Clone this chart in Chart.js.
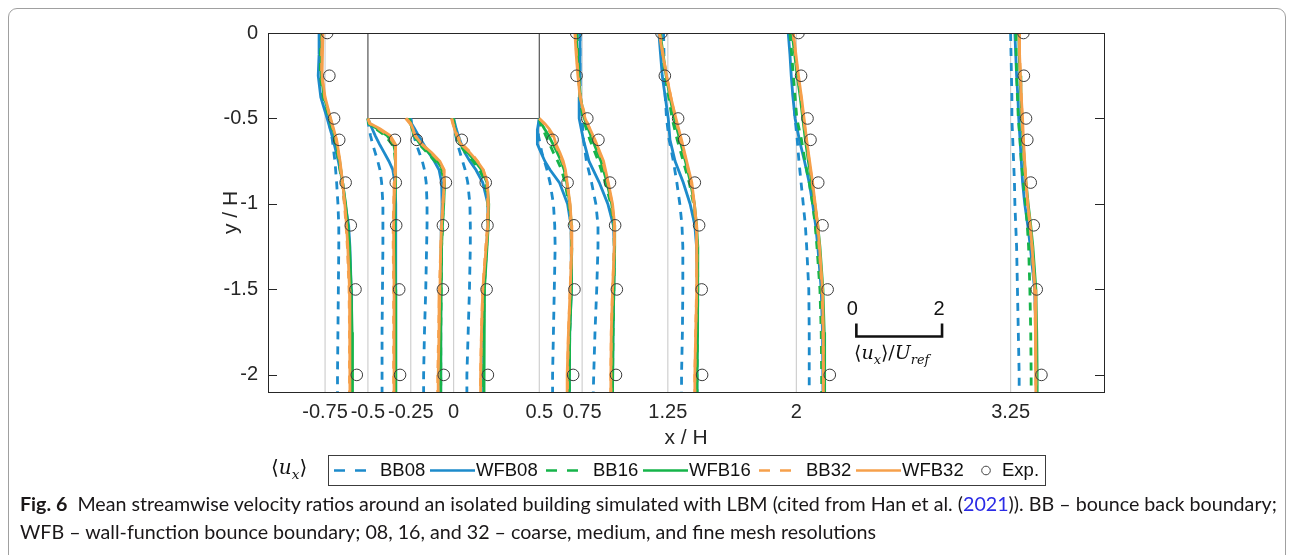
<!DOCTYPE html>
<html><head><meta charset="utf-8">
<script src="https://cdn.jsdelivr.net/npm/chart.js@4.4.1/dist/chart.umd.min.js"></script>
<style>
html,body{margin:0;padding:0;background:#fff;}
#wrap{position:relative;width:1292px;height:555px;overflow:hidden;background:#fff;}
#frame{position:absolute;left:8px;top:8px;width:1276px;height:566px;border:1px solid #a0a0a0;border-radius:9px;}
#c{position:absolute;left:0;top:0;}
.math{position:absolute;font-family:'DejaVu Serif','Liberation Serif',serif;color:#111;white-space:nowrap;}
.math sub{font-size:68%;vertical-align:-0.35em;line-height:0;}
#legend{position:absolute;left:328px;top:455px;width:716px;height:29px;border:1px solid #3c3c3c;background:#fff;}
.lt{position:absolute;top:3px;font-family:'Liberation Sans',Arial,sans-serif;font-size:18.5px;color:#111;white-space:nowrap;}
.ls{position:absolute;top:0;}
#cap{position:absolute;left:20px;top:490px;font-family:'Lato',sans-serif;font-size:18px;line-height:28px;color:#1a1718;white-space:nowrap;}
</style></head>
<body><div id="wrap">
<div id="frame"></div>
<canvas id="c" width="1292" height="555"></canvas>
<div class="math" id="uxLeft" style="left:271px;top:455px;font-size:20px;">⟨<i>u</i><sub><i>x</i></sub>⟩</div>
<div id="legend"></div>
<div class="math" id="barLab" style="left:854px;top:341px;font-size:19px;">⟨<i>u</i><sub><i>x</i></sub>⟩/<i>U</i><sub><i>ref</i></sub></div>
<div id="cap"><span id="cap1"><b>Fig. 6</b>&nbsp; Mean streamwise velocity ratios around an isolated building simulated with LBM (cited from Han et al. (<span style="color:#2b2be6">2021</span>)). BB – bounce back boundary;</span><br><span id="cap2">WFB – wall-function bounce boundary; 08, 16, and 32 – coarse, medium, and fine mesh resolutions</span></div>
</div>
<script>
// ---------- data ----------
const xLoc = [-0.75, -0.5, -0.25, 0, 0.5, 0.75, 1.25, 2, 3.25];
const onRoof = [false, true, true, true, true, false, false, false, false];
const yFull = [0, -0.125, -0.25, -0.375, -0.5, -0.625, -0.75, -0.875, -1, -1.125, -1.25, -1.5, -1.75, -2, -2.1];
const yRoof = [-0.5, -0.53, -0.56, -0.6, -0.65, -0.7, -0.75, -0.8, -0.875, -1, -1.125, -1.25, -1.5, -1.75, -2, -2.1];
const xTicks = [-0.75, -0.5, -0.25, 0, 0.5, 0.75, 1.25, 2, 3.25];
const yTicks = [0, -0.5, -1, -1.5, -2];
const buildingX = [-0.5, 0.5];
const buildingY = [0, -0.5];
const uScale = 0.25;            // x/H per unit of <u_x>/U_ref
const scaleBarU = [0, 2];

const BB08 = [
 [-0.10,-0.12,-0.12,-0.06,0.08,0.17,0.23,0.27,0.30,0.32,0.32,0.31,0.30,0.29,0.29],
 [0,0.01,0.03,0.06,0.11,0.17,0.23,0.28,0.32,0.35,0.35,0.35,0.34,0.33,0.33,0.33],
 [0,0.01,0.03,0.07,0.13,0.20,0.27,0.32,0.36,0.38,0.38,0.37,0.35,0.32,0.30,0.30],
 [0,0.00,0.02,0.05,0.09,0.15,0.21,0.27,0.33,0.38,0.39,0.39,0.37,0.34,0.31,0.31],
 [0,-0.01,-0.02,-0.02,0.02,0.06,0.12,0.18,0.25,0.33,0.36,0.37,0.35,0.33,0.31,0.31],
 [-0.05,-0.05,-0.05,-0.04,0.00,0.03,0.10,0.22,0.32,0.37,0.37,0.34,0.30,0.27,0.26],
 [-0.10,-0.09,-0.08,-0.06,-0.03,0.03,0.13,0.21,0.28,0.33,0.35,0.35,0.34,0.32,0.32],
 [-0.15,-0.12,-0.10,-0.07,-0.03,0.02,0.06,0.11,0.16,0.21,0.24,0.29,0.30,0.30,0.30],
 [0.00,0.01,0.02,0.03,0.03,0.05,0.07,0.09,0.10,0.12,0.14,0.16,0.18,0.20,0.20]
];
const WFB08 = [
 [-0.12,-0.14,-0.16,-0.10,0.05,0.19,0.31,0.41,0.47,0.55,0.58,0.61,0.62,0.62,0.62],
 [0,0.05,0.10,0.17,0.27,0.38,0.49,0.58,0.63,0.65,0.65,0.65,0.65,0.65,0.65,0.65],
 [0,0.02,0.09,0.18,0.30,0.42,0.55,0.66,0.72,0.73,0.72,0.71,0.70,0.70,0.70,0.70],
 [0,0.03,0.06,0.11,0.18,0.26,0.38,0.52,0.68,0.80,0.80,0.77,0.71,0.70,0.70,0.70],
 [0,-0.02,-0.04,-0.05,-0.04,0.04,0.13,0.25,0.47,0.66,0.74,0.76,0.74,0.71,0.70,0.70],
 [-0.05,-0.05,-0.05,-0.06,-0.07,0.03,0.16,0.40,0.60,0.73,0.75,0.74,0.72,0.71,0.71],
 [-0.21,-0.17,-0.13,-0.06,0.01,0.05,0.17,0.36,0.52,0.63,0.67,0.69,0.68,0.68,0.68],
 [-0.19,-0.15,-0.12,-0.08,-0.03,0.07,0.19,0.30,0.38,0.45,0.50,0.58,0.61,0.62,0.62],
 [0.10,0.12,0.14,0.17,0.19,0.22,0.25,0.28,0.33,0.40,0.46,0.56,0.59,0.60,0.60]
];
const BB16 = [
 [-0.08,-0.11,-0.11,-0.04,0.10,0.23,0.32,0.39,0.46,0.51,0.55,0.59,0.61,0.62,0.62],
 [0,0.02,0.18,0.40,0.56,0.62,0.64,0.64,0.63,0.62,0.62,0.62,0.63,0.64,0.64,0.64],
 [-0.04,0.00,0.03,0.08,0.20,0.38,0.57,0.72,0.78,0.76,0.74,0.72,0.71,0.70,0.70,0.70],
 [0,0.01,0.03,0.06,0.13,0.28,0.45,0.60,0.75,0.80,0.80,0.77,0.71,0.70,0.70,0.70],
 [0,0.03,0.08,0.15,0.24,0.33,0.43,0.52,0.60,0.69,0.74,0.76,0.74,0.71,0.70,0.70],
 [-0.12,-0.10,-0.08,-0.05,0.02,0.18,0.38,0.54,0.67,0.74,0.75,0.74,0.72,0.71,0.71],
 [-0.17,-0.12,-0.06,0.02,0.10,0.22,0.36,0.50,0.60,0.66,0.69,0.70,0.69,0.68,0.68],
 [-0.15,-0.11,-0.07,-0.03,0.01,0.12,0.20,0.30,0.38,0.44,0.48,0.55,0.58,0.59,0.59],
 [0.12,0.13,0.14,0.16,0.18,0.22,0.25,0.30,0.35,0.39,0.42,0.45,0.47,0.48,0.48]
];
const WFB16 = [
 [-0.07,-0.09,-0.09,-0.02,0.12,0.25,0.34,0.41,0.48,0.53,0.57,0.61,0.63,0.64,0.64],
 [0,0.03,0.22,0.45,0.60,0.64,0.65,0.65,0.64,0.63,0.63,0.63,0.64,0.65,0.65,0.65],
 [-0.05,0.00,0.03,0.08,0.22,0.42,0.62,0.75,0.79,0.77,0.74,0.72,0.71,0.70,0.70,0.70],
 [-0.02,0.00,0.03,0.07,0.15,0.33,0.50,0.65,0.78,0.82,0.81,0.78,0.72,0.71,0.71,0.71],
 [0,0.05,0.12,0.22,0.32,0.42,0.51,0.58,0.64,0.71,0.75,0.76,0.74,0.71,0.70,0.70],
 [-0.14,-0.11,-0.08,-0.04,0.05,0.24,0.44,0.58,0.69,0.75,0.76,0.74,0.72,0.71,0.71],
 [-0.18,-0.11,-0.04,0.05,0.15,0.28,0.41,0.53,0.62,0.67,0.70,0.70,0.69,0.68,0.68],
 [-0.10,-0.04,0.02,0.09,0.15,0.21,0.28,0.36,0.43,0.50,0.55,0.62,0.65,0.66,0.66],
 [0.19,0.20,0.22,0.24,0.26,0.29,0.32,0.36,0.41,0.47,0.52,0.59,0.61,0.62,0.62]
];
const BB32 = [
 [-0.06,-0.08,-0.08,-0.01,0.12,0.26,0.34,0.40,0.45,0.49,0.52,0.56,0.57,0.57,0.57],
 [0,0.04,0.25,0.48,0.62,0.64,0.64,0.63,0.62,0.60,0.59,0.59,0.60,0.60,0.60,0.60],
 [-0.12,-0.02,0.04,0.10,0.25,0.47,0.66,0.77,0.78,0.75,0.72,0.70,0.67,0.65,0.63,0.63],
 [-0.04,-0.01,0.03,0.09,0.20,0.40,0.56,0.69,0.78,0.80,0.79,0.75,0.68,0.65,0.63,0.63],
 [0,0.11,0.20,0.30,0.37,0.46,0.54,0.60,0.65,0.71,0.74,0.75,0.72,0.68,0.66,0.66],
 [-0.16,-0.13,-0.09,-0.04,0.08,0.28,0.48,0.60,0.70,0.75,0.75,0.71,0.68,0.67,0.67],
 [-0.19,-0.11,-0.03,0.07,0.18,0.30,0.43,0.54,0.61,0.66,0.68,0.67,0.65,0.63,0.63],
 [-0.08,-0.02,0.04,0.11,0.17,0.23,0.30,0.37,0.43,0.49,0.53,0.60,0.62,0.63,0.63],
 [0.20,0.21,0.23,0.25,0.27,0.29,0.32,0.36,0.40,0.45,0.50,0.56,0.58,0.59,0.59]
];
const WFB32 = [
 [-0.05,-0.07,-0.07,0.00,0.13,0.27,0.35,0.41,0.46,0.50,0.53,0.57,0.58,0.58,0.58],
 [0,0.05,0.28,0.52,0.64,0.65,0.65,0.64,0.63,0.61,0.60,0.60,0.61,0.61,0.61,0.61],
 [-0.10,0.00,0.05,0.10,0.26,0.49,0.68,0.78,0.78,0.75,0.72,0.70,0.68,0.66,0.64,0.64],
 [-0.05,-0.02,0.02,0.07,0.17,0.38,0.55,0.69,0.79,0.81,0.80,0.76,0.68,0.65,0.63,0.63],
 [0,0.13,0.23,0.33,0.39,0.48,0.56,0.61,0.65,0.72,0.75,0.76,0.72,0.68,0.65,0.65],
 [-0.17,-0.14,-0.10,-0.05,0.07,0.30,0.50,0.61,0.71,0.76,0.75,0.71,0.68,0.67,0.67],
 [-0.20,-0.12,-0.03,0.07,0.19,0.32,0.44,0.56,0.62,0.67,0.68,0.67,0.65,0.63,0.63],
 [-0.07,-0.01,0.05,0.12,0.18,0.24,0.31,0.38,0.44,0.50,0.54,0.61,0.63,0.63,0.63],
 [0.20,0.21,0.23,0.25,0.28,0.30,0.33,0.36,0.40,0.46,0.50,0.57,0.59,0.59,0.59]
];
const expY = [0, -0.25, -0.5, -0.625, -0.875, -1.125, -1.5, -2];
const EXP = [
 [0.05,0.10,0.21,0.33,0.48,0.60,0.71,0.74],
 [null,null,null,0.63,0.65,0.66,0.73,0.75],
 [null,null,null,0.14,0.82,0.75,0.75,0.77],
 [null,null,null,0.19,0.75,0.79,0.77,0.80],
 [null,null,null,0.31,0.66,0.81,0.82,0.79],
 [-0.14,-0.13,0.12,0.38,0.65,0.77,0.81,0.79],
 [-0.15,-0.07,0.24,0.38,0.63,0.73,0.79,0.80],
 [0.05,0.11,0.26,0.33,0.51,0.61,0.73,0.78],
 [0.30,0.31,0.36,0.39,0.47,0.54,0.61,0.72]
];
const seriesNames = ['BB08','WFB08','BB16','WFB16','BB32','WFB32'];

// ---------- styles ----------
const BLUE = '#1d8bcb', GREEN = '#16b44a', ORANGE = '#f6a04b';
const DASH = [8, 7];
const series = [
  {name:'BB08', data:BB08, color:BLUE, dash:DASH, order:5},
  {name:'WFB08', data:WFB08, color:BLUE, dash:[], order:4},
  {name:'BB16', data:BB16, color:GREEN, dash:DASH, order:3},
  {name:'WFB16', data:WFB16, color:GREEN, dash:[], order:2},
  {name:'BB32', data:BB32, color:ORANGE, dash:DASH, order:1},
  {name:'WFB32', data:WFB32, color:ORANGE, dash:[], order:0}
];
const X_MIN = -1.083, X_MAX = 3.795, Y_MIN = -2.1, Y_MAX = 0;

const datasets = [];
xLoc.forEach((x0, i) => {
  datasets.push({data:[{x:x0, y: onRoof[i] ? buildingY[1] : Y_MAX}, {x:x0, y:Y_MIN}],
    borderColor:'#d0d0d0', borderWidth:1.2, pointRadius:0, order:20});
});
datasets.push({data:[{x:buildingX[0],y:buildingY[0]},{x:buildingX[0],y:buildingY[1]},{x:buildingX[1],y:buildingY[1]},{x:buildingX[1],y:buildingY[0]}],
  borderColor:'#555', borderWidth:1.2, pointRadius:0, order:15});
series.forEach(s => {
  xLoc.forEach((x0, i) => {
    const ys = onRoof[i] ? yRoof : yFull;
    datasets.push({label:s.name, data:s.data[i].map((u,k) => ({x:x0 + uScale*u, y:ys[k]})),
      borderColor:s.color, borderWidth:2.8, borderDash:s.dash, pointRadius:0, order:s.order, fill:false, tension:0});
  });
});
const expPts = [];
xLoc.forEach((x0, i) => EXP[i].forEach((u,k) => { if (u !== null) expPts.push({x:x0 + uScale*u, y:expY[k]}); }));
datasets.push({label:'Exp.', data:expPts, showLine:false, pointRadius:5.8, pointBorderColor:'#3a3a3a',
  pointBackgroundColor:'rgba(0,0,0,0)', pointBorderWidth:1, order:-1});

const boxPlugin = {
  id:'boxPlugin',
  afterDraw(chart) {
    const {ctx, chartArea:a, scales:{x, y}} = chart;
    ctx.save();
    ctx.strokeStyle = '#262626'; ctx.lineWidth = 1;
    ctx.strokeRect(a.left + 0.5, a.top + 0.5, a.right - a.left, a.bottom - a.top);
    yTicks.forEach(v => {
      const py = Math.round(y.getPixelForValue(v)) + 0.5;
      ctx.beginPath(); ctx.moveTo(a.left, py); ctx.lineTo(a.left + 9, py);
      ctx.moveTo(a.right, py); ctx.lineTo(a.right - 9, py); ctx.stroke();
    });
    // scale bar for <u_x>/U_ref
    const bx0 = 2.35, byv = -1.775;
    const p0 = x.getPixelForValue(bx0 + uScale*scaleBarU[0]);
    const p1 = x.getPixelForValue(bx0 + uScale*scaleBarU[1]);
    const pyb = y.getPixelForValue(byv), pyt = y.getPixelForValue(byv + 0.075);
    ctx.strokeStyle = '#111'; ctx.lineWidth = 2.6;
    ctx.beginPath(); ctx.moveTo(p0, pyt); ctx.lineTo(p0, pyb); ctx.lineTo(p1, pyb); ctx.lineTo(p1, pyt); ctx.stroke();
    ctx.fillStyle = '#111'; ctx.font = '20px "Liberation Sans", Arial, sans-serif';
    ctx.textAlign = 'center'; ctx.textBaseline = 'middle';
    const ly = y.getPixelForValue(byv + 0.16);
    ctx.fillText(String(scaleBarU[0]), p0 - 4, ly);
    ctx.fillText(String(scaleBarU[1]), p1 - 3, ly);
    ctx.restore();
  }
};

new Chart(document.getElementById('c'), {
  type:'line',
  data:{datasets},
  options:{
    responsive:false, animation:false, devicePixelRatio:1,
    layout:{padding:{left:212, right:188, top:33, bottom:100}},
    plugins:{legend:{display:false}, tooltip:{enabled:false}},
    scales:{
      x:{type:'linear', min:X_MIN, max:X_MAX,
        grid:{display:false, drawTicks:false}, border:{display:false},
        afterBuildTicks: s => { s.ticks = xTicks.map(v => ({value:v})); },
        afterFit: s => { s.height = 63; },
        ticks:{autoSkip:false, maxRotation:0, minRotation:0, padding:8, color:'#262626',
          font:{family:'Liberation Sans', size:20}, callback: v => String(v)},
        title:{display:true, text:'x / H', color:'#262626', font:{family:'Liberation Sans', size:21}, padding:{top:4, bottom:4}}
      },
      y:{type:'linear', min:Y_MIN, max:Y_MAX,
        grid:{display:false, drawTicks:false}, border:{display:false},
        afterBuildTicks: s => { s.ticks = yTicks.map(v => ({value:v})); },
        afterFit: s => { s.width = 56; },
        ticks:{padding:10, color:'#262626', font:{family:'Liberation Sans', size:20}, callback: v => String(v)},
        title:{display:true, text:'y / H', color:'#262626', font:{family:'Liberation Sans', size:21}, padding:{top:7, bottom:0}}
      }
    }
  },
  plugins:[boxPlugin]
});

// ---------- legend (HTML) ----------
const legendItems = [
  {name:'BB08', color:BLUE, dashed:true, s0:334, s1:370, t:380},
  {name:'WFB08', color:BLUE, dashed:false, s0:430, s1:475, t:476},
  {name:'BB16', color:GREEN, dashed:true, s0:546, s1:583, t:593},
  {name:'WFB16', color:GREEN, dashed:false, s0:643, s1:688, t:689},
  {name:'BB32', color:ORANGE, dashed:true, s0:759, s1:796, t:806},
  {name:'WFB32', color:ORANGE, dashed:false, s0:856, s1:901, t:902},
  {name:'Exp.', circle:true, s0:980, s1:990, t:1002}
];
const lg = document.getElementById('legend');
const L0 = 329;
legendItems.forEach(it => {
  const w = it.s1 - it.s0;
  let svg;
  if (it.circle) {
    svg = `<svg class="ls" style="left:${it.s0-L0}px" width="12" height="29"><circle cx="6" cy="14.5" r="4.3" fill="none" stroke="#444" stroke-width="1"/></svg>`;
  } else {
    svg = `<svg class="ls" style="left:${it.s0-L0}px" width="${w}" height="29"><line x1="0" y1="14.5" x2="${w}" y2="14.5" stroke="${it.color}" stroke-width="2.6" ${it.dashed ? 'stroke-dasharray="11 10"' : ''}/></svg>`;
  }
  lg.insertAdjacentHTML('beforeend', svg + `<div class="lt" style="left:${it.t-L0}px">${it.name}</div>`);
});

// fit caption line 1 to the reference width
const cap1 = document.getElementById('cap1');
const w1 = cap1.getBoundingClientRect().width;
const cap = document.getElementById('cap');
cap.style.fontSize = (18 * 1258 / w1).toFixed(2) + 'px';
</script>
</body></html>
